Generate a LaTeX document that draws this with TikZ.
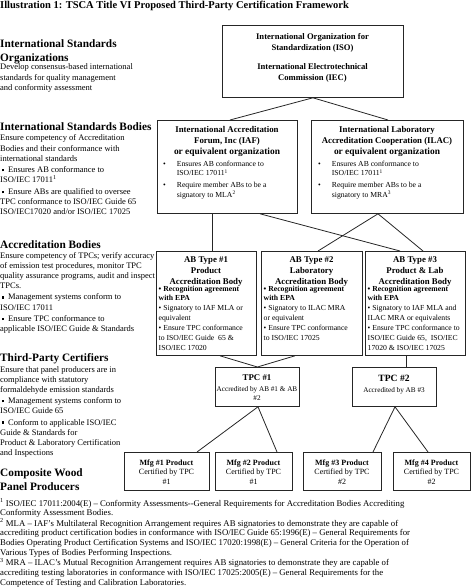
\documentclass[tikz,border=0pt]{standalone}
\usepackage{fontspec}
\setmainfont{Liberation Serif}
\usetikzlibrary{calc}
\newcommand\tabL[1]{\begin{tabular}[t]{@{}l@{}}#1\end{tabular}}
\newcommand\tabC[1]{\begin{tabular}[t]{@{}c@{}}#1\end{tabular}}
\newcommand\sqb{\hspace*{1.5pt}\raisebox{1.2pt}{\rule{2.4pt}{2.4pt}}\hspace{4pt}}
\newcommand\blist[1]{\begin{tabular}[t]{@{}l@{\hspace{11pt}}l@{}}#1\end{tabular}}
\newcommand\mfgtext[2]{\tabC{\textbf{Mfg \##1 Product}\\Certified by TPC\\\##2}}
\begin{document}
\begin{tikzpicture}[x=1pt,y=-1pt,
  box/.style={draw=black!85, line width=0.8pt, inner sep=0pt, anchor=north west},
  txt/.style={inner sep=0pt, anchor=base west},
  ctxt/.style={inner sep=0pt, anchor=base},
  head/.style={txt, font=\fontsize{11.3}{13.5}\selectfont\bfseries},
  body/.style={txt, font=\fontsize{8.5}{10.2}\selectfont},
  bhead/.style={ctxt, font=\fontsize{8.8}{11}\selectfont\bfseries},
  bsmall/.style={txt, font=\fontsize{7.7}{9.9}\selectfont},
  mtext/.style={ctxt, font=\fontsize{8}{9.6}\selectfont},
  link/.style={draw=black!85, line width=0.8pt}]
\useasboundingbox (0,0) rectangle (474,588);

% title
\node[txt, font=\fontsize{10.5}{12}\selectfont\bfseries] (title) at (0,9)
  {Illustration 1: TSCA Title VI Proposed Third-Party Certification Framework};

% left column
\node[head] (h1) at (0,48) {\tabL{International Standards\\Organizations}};
\node[body] (b1) at (0,70) {\tabL{Develop consensus-based international\\standards for quality management\\and conformity assessment}};

\node[head] (h2) at (0,131) {International Standards Bodies};
\node[body] (b2) at (0,141) {\tabL{Ensure competency of Accreditation\\Bodies and their conformance with\\international standards\\[1pt]\sqb Ensures AB conformance to\\ISO/IEC 17011\textsuperscript{1}\\[1.5pt]\sqb Ensure ABs are qualified to oversee\\TPC conformance to ISO/IEC Guide 65\\ISO/IEC17020 and/or ISO/IEC 17025}};

\node[head] (h3) at (0,248) {Accreditation Bodies};
\node[body] (b3) at (0,258) {\tabL{Ensure competency of TPCs; verify accuracy\\of emission test procedures, monitor TPC\\quality assurance programs, audit and inspect\\TPCs.\\[1pt]\sqb Management systems conform to\\ISO/IEC 17011\\[1pt]\sqb Ensure TPC conformance to\\applicable ISO/IEC Guide \& Standards}};

\node[head] (h4) at (0,361) {Third-Party Certifiers};
\node[body] (b4) at (0,372) {\tabL{Ensure that panel producers are in\\compliance with statutory\\formaldehyde emission standards\\[1pt]\sqb Management systems conform to\\ISO/IEC Guide 65\\[1pt]\sqb Conform to applicable ISO/IEC\\Guide \& Standards for\\Product \& Laboratory Certification\\and Inspections}};

\node[head, font=\fontsize{11.3}{14.5}\selectfont\bfseries] (h5) at (0,476) {\tabL{Composite Wood\\Panel Producers}};

% footnotes
\node[txt, font=\fontsize{8.75}{9.6}\selectfont] (fn) at (0,506) {\tabL{\textsuperscript{1} ISO/IEC 17011:2004(E) – Conformity Assessments-{}-General Requirements for Accreditation Bodies Accrediting\\Conformity Assessment Bodies.\\\textsuperscript{2} MLA – IAF’s Multilateral Recognition Arrangement requires AB signatories to demonstrate they are capable of\\accrediting product certification bodies in conformance with ISO/IEC Guide 65:1996(E) – General Requirements for\\Bodies Operating Product Certification Systems and ISO/IEC 17020:1998(E) – General Criteria for the Operation of\\Various Types of Bodies Performing Inspections.\\\textsuperscript{3} MRA – ILAC’s Mutual Recognition Arrangement requires AB signatories to demonstrate they are capable of\\accrediting testing laboratories in conformance with ISO/IEC 17025:2005(E) – General Requirements for the\\Competence of Testing and Calibration Laboratories.}};

% ISO box
\node[box, minimum width=181, minimum height=72] (iso) at (222,25) {};
\node[bhead, font=\fontsize{8.6}{11}\selectfont\bfseries] (isot) at (312.5,40) {\tabC{International Organization for\\Standardization (ISO)\\[8pt]International Electrotechnical\\Commission (IEC)}};

% IAF box
\node[box, minimum width=140, minimum height=93] (iaf) at (157,120) {};
\node[bhead] (iaft) at (227,133) {\tabC{International Accreditation\\Forum, Inc (IAF)\\{\fontsize{9.4}{11}\selectfont or equivalent organization}}};
\node[bsmall] (iafl) at (163,166) {\blist{•&Ensures AB conformance to\\&ISO/IEC 17011\textsuperscript{1}\\[2pt]•&Require member ABs to be a\\&signatory to MLA\textsuperscript{2}}};

% ILAC box
\node[box, minimum width=152, minimum height=93] (ilac) at (311,120) {};
\node[bhead] (ilact) at (387,133) {\tabC{International Laboratory\\Accreditation Cooperation (ILAC)\\{\fontsize{9.4}{11}\selectfont or equivalent organization}}};
\node[bsmall] (ilacl) at (318,166) {\blist{•&Ensures AB conformance to\\&ISO/IEC 17011\textsuperscript{1}\\[2pt]•&Require member ABs to be a\\&signatory to MRA\textsuperscript{3}}};

% AB boxes
\node[box, minimum width=100, minimum height=104] (ab1) at (156,251) {};
\node[box, minimum width=101, minimum height=104] (ab2) at (261,251) {};
\node[box, minimum width=100, minimum height=104] (ab3) at (365,251) {};
\node[bhead] (ab1t) at (206,262) {\tabC{AB Type \#1\\Product\\Accreditation Body}};
\node[bhead] (ab2t) at (311.5,262) {\tabC{AB Type \#2\\Laboratory\\Accreditation Body}};
\node[bhead] (ab3t) at (415,262) {\tabC{AB Type \#3\\Product \& Lab\\Accreditation Body}};
\node[bsmall] (ab1l) at (158.5,291) {\tabL{\textbf{• Recognition agreement}\\\textbf{with EPA}\\• Signatory to IAF MLA or\\equivalent\\• Ensure TPC conformance\\to ISO/IEC Guide~ 65 \&\\ISO/IEC 17020}};
\node[bsmall] (ab2l) at (263.5,291) {\tabL{\textbf{• Recognition agreement}\\\textbf{with EPA}\\• Signatory to ILAC MRA\\or equivalent\\• Ensure TPC conformance\\to ISO/IEC 17025}};
\node[bsmall] (ab3l) at (367.5,291) {\tabL{\textbf{• Recognition agreement}\\\textbf{with EPA}\\• Signatory to IAF MLA and\\ILAC MRA or equivalents\\• Ensure TPC conformance to\\ISO/IEC Guide 65,~ ISO/IEC\\17020 \& ISO/IEC 17025}};

% TPC boxes
\node[box, minimum width=84, minimum height=39] (tpc1) at (215,367) {};
\node[box, minimum width=84, minimum height=39] (tpc2) at (352,367) {};
\node[bhead] (tpc1t) at (257,380) {TPC \#1};
\node[ctxt, font=\fontsize{7.2}{9}\selectfont] (tpc1s) at (257,391) {\tabC{Accredited by AB \#1 \& AB\\\#2}};
\node[bhead, font=\fontsize{9.6}{11}\selectfont\bfseries] (tpc2t) at (394,381) {TPC \#2};
\node[ctxt, font=\fontsize{7.2}{9}\selectfont] (tpc2s) at (394,392) {Accredited by AB \#3};

% Mfg boxes
\node[box, minimum width=85, minimum height=38] (mfg1) at (124,452) {};
\node[box, minimum width=77, minimum height=38] (mfg2) at (215,452) {};
\node[box, minimum width=78, minimum height=38] (mfg3) at (303,452) {};
\node[box, minimum width=77, minimum height=38] (mfg4) at (393,452) {};
\node[mtext] (mfg1t) at (166.5,465) {\mfgtext{1}{1}};
\node[mtext] (mfg2t) at (253.5,465) {\mfgtext{2}{1}};
\node[mtext] (mfg3t) at (342,465) {\mfgtext{3}{2}};
\node[mtext] (mfg4t) at (431.5,465) {\mfgtext{4}{2}};

% connectors
\draw[link] (iso.south) -- ($(iaf.north west)+(73,0)$);
\draw[link] (iso.south) -- ($(ilac.north west)+(77,0)$);
\draw[link] ($(iaf.south west)+(55,0)$) -- ($(ab1.north west)+(56,0)$);
\draw[link] ($(iaf.south west)+(103,0)$) -- ($(ab3.north west)+(35,0)$);
\draw[link] ($(ilac.south west)+(67,0)$) -- ($(ab2.north west)+(57,0)$);
\draw[link] ($(ilac.south west)+(67,0)$) -- ($(ab3.north west)+(58,0)$);
\draw[link] ($(ab1.south west)+(64,0)$) -- (tpc1.north);
\draw[link] ($(ab2.south west)+(34,0)$) -- (tpc1.north);
\draw[link] ($(ab3.south west)+(41,0)$) -- ($(tpc2.north west)+(54,0)$);
\draw[link] ($(tpc1.south west)+(43,0)$) -- ($(mfg1.north west)+(73,0)$);
\draw[link] ($(tpc1.south west)+(43,0)$) -- ($(mfg2.north west)+(62,0)$);
\draw[link] ($(tpc2.south west)+(43,0)$) -- ($(mfg3.north west)+(70,0)$);
\draw[link] ($(tpc2.south west)+(43,0)$) -- ($(mfg4.north west)+(35,0)$);
\end{tikzpicture}
\end{document}
